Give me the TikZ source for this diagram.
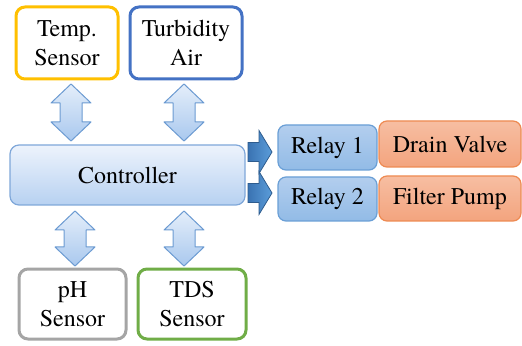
\documentclass[tikz,border=0pt]{standalone}
\usepackage{fontspec}
\setmainfont{TeX Gyre Termes}

\definecolor{tempor}{HTML}{FFC000}
\definecolor{turbblue}{HTML}{4472C4}
\definecolor{phgray}{HTML}{A5A5A5}
\definecolor{tdsgreen}{HTML}{70AD47}
\definecolor{ctrlline}{HTML}{7FA7D9}
\definecolor{ctrltop}{HTML}{EDF3FC}
\definecolor{ctrlbot}{HTML}{B7D1F1}
\definecolor{relayline}{HTML}{6A9FD6}
\definecolor{relaytop}{HTML}{B3CEEE}
\definecolor{relaybot}{HTML}{92BBE6}
\definecolor{actline}{HTML}{EE8A52}
\definecolor{acttop}{HTML}{F7BEA2}
\definecolor{actbot}{HTML}{F3A47E}
\definecolor{barrowline}{HTML}{6C9BD2}
\definecolor{barrowtop}{HTML}{E4EEFA}
\definecolor{barrowbot}{HTML}{A9C8EE}
\definecolor{darrowleft}{HTML}{3A73B2}
\definecolor{darrowright}{HTML}{5B9DDA}

% vertical two-headed block arrow: x, top y, bottom y
\newcommand\vbiarrow[3]{%
  \path[biarrow] (#1,#2) -- (#1+20,#2+19) -- (#1+11,#2+19) -- (#1+11,#3-19)
    -- (#1+20,#3-19) -- (#1,#3) -- (#1-20,#3-19) -- (#1-11,#3-19)
    -- (#1-11,#2+19) -- (#1-20,#2+19) -- cycle;}
% horizontal block arrow pointing right: centre y
\newcommand\rtarrow[1]{%
  \path[outarrow] (248,#1-9.5) -- (259,#1-9.5) -- (259,#1-21.5) -- (272,#1)
    -- (259,#1+21.5) -- (259,#1+9.5) -- (248,#1+9.5) -- cycle;}

\begin{document}
\begin{tikzpicture}[x=0.5pt,y=-0.5pt,
  font=\fontsize{12}{14.5}\selectfont,
  sensor/.style={draw, line width=1.5pt, rounded corners=4.5pt, fill=white,
    align=center, inner sep=0pt},
  ctrlbox/.style={draw=ctrlline, line width=0.6pt, rounded corners=4.5pt,
    top color=ctrltop, bottom color=ctrlbot, inner sep=0pt},
  relaybox/.style={draw=relayline, line width=0.6pt, rounded corners=4pt,
    top color=relaytop, bottom color=relaybot, inner sep=0pt},
  actbox/.style={draw=actline, line width=0.6pt, rounded corners=4pt,
    top color=acttop, bottom color=actbot, inner sep=0pt},
  biarrow/.style={draw=barrowline, line width=0.5pt, line join=round,
    top color=barrowtop, bottom color=barrowbot},
  outarrow/.style={draw=darrowleft!80!black, line width=0.4pt,
    left color=darrowleft, right color=darrowright}]

\useasboundingbox (0,0) rectangle (522,346);

% sensors
\node[sensor, draw=tempor, minimum width=51pt, minimum height=36pt]
  (temp) at (67,43) {Temp.\\Sensor};
\node[sensor, draw=turbblue, minimum width=56pt, minimum height=36pt]
  (turb) at (186,43) {Turbidity\\Air};
\node[sensor, draw=phgray, minimum width=53.5pt, minimum height=35pt]
  (ph) at (72.5,304) {pH\\Sensor};
\node[sensor, draw=tdsgreen, minimum width=54pt, minimum height=35pt]
  (tds) at (192,304) {TDS\\Sensor};

% controller
\node[ctrlbox, minimum width=117.5pt, minimum height=30pt]
  (ctrl) at (127.5,175) {Controller};

% relays and actuators
\node[relaybox, minimum width=49.5pt, minimum height=22.5pt]
  (relay1) at (327.5,147.5) {Relay 1};
\node[relaybox, minimum width=49.5pt, minimum height=22pt]
  (relay2) at (327.5,199) {Relay 2};
\node[actbox, minimum width=71pt, minimum height=23pt]
  (drain) at (450,144) {Drain Valve};
\node[actbox, minimum width=71pt, minimum height=22.5pt]
  (pump) at (450,198.5) {Filter Pump};

% links between sensors and controller
\vbiarrow{71}{84}{141}
\vbiarrow{184}{84}{141}
\vbiarrow{75}{211}{266}
\vbiarrow{184}{211}{266}

% outputs to relays
\rtarrow{152}
\rtarrow{193}

\end{tikzpicture}
\end{document}
